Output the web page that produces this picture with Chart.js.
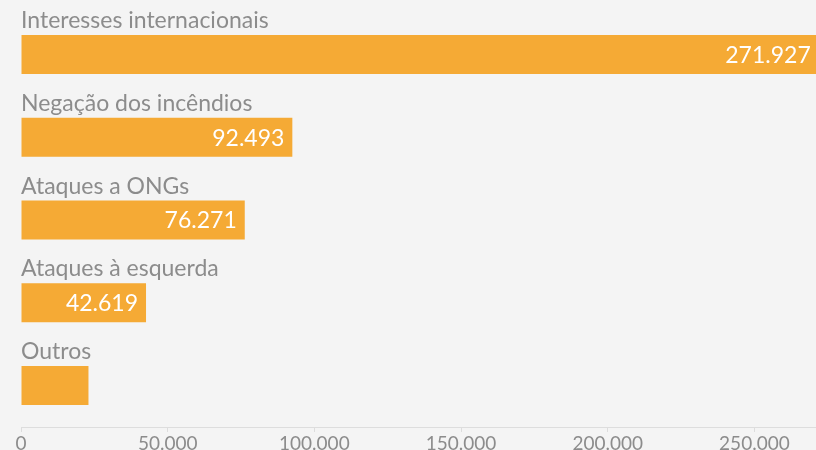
<!DOCTYPE html>
<html lang="pt-BR">
<head>
<meta charset="utf-8">
<title>Temas</title>
<script src="https://cdn.jsdelivr.net/npm/chart.js@4.4.1/dist/chart.umd.min.js"></script>
<style>
  html, body { margin: 0; padding: 0; background: #f4f4f4; }
  #box { width: 816px; height: 450px; position: relative; }
</style>
</head>
<body>
<div id="box"><canvas id="barChart"></canvas></div>
<script>
const temas = ['Interesses internacionais', 'Negação dos incêndios', 'Ataques a ONGs', 'Ataques à esquerda', 'Outros'];
const total = [271927, 92493, 76271, 42619, 23000];
const escala = [0, 50000, 100000, 150000, 200000, 250000];

const laranja = '#f5aa35';
const cinza = '#8c8c8c';
const fonte = 'Lato, "Open Sans", sans-serif';

function milhar(n){
    return String(n).replace(/\B(?=(\d{3})+(?!\d))/g, '.');
}

// nome do tema acima da barra, valor em branco dentro dela
const rotulos = {
    id: 'rotulos',
    afterDatasetsDraw(chart){
        const ctx = chart.ctx;
        const area = chart.chartArea;
        const barras = chart.getDatasetMeta(0).data;
        ctx.save();
        barras.forEach((bar, i) => {
            const topo = bar.y - bar.height / 2;
            ctx.font = '23px ' + fonte;
            ctx.fillStyle = cinza;
            ctx.textAlign = 'left';
            ctx.textBaseline = 'alphabetic';
            ctx.fillText(temas[i], area.left, topo - 7);

            const txt = milhar(total[i]);
            ctx.font = '23px ' + fonte;
            const w = ctx.measureText(txt).width;
            if (bar.x - bar.base > w + 16) {
                ctx.fillStyle = '#ffffff';
                ctx.textAlign = 'right';
                ctx.textBaseline = 'middle';
                ctx.fillText(txt, bar.x - 8, bar.y + 1);
            }
        });
        ctx.restore();
    }
};

function main(){
    const ctx = document.getElementById('barChart').getContext('2d');
    new Chart(ctx, {
        type: 'bar',
        data: {
            labels: temas,
            datasets: [{
                data: total,
                backgroundColor: laranja,
                borderWidth: 0,
                categoryPercentage: 1,
                barPercentage: 0.471
            }]
        },
        options: {
            indexAxis: 'y',
            responsive: true,
            maintainAspectRatio: false,
            animation: false,
            layout: { padding: { left: 21, right: 0, top: 13, bottom: 0 } },
            plugins: {
                legend: { display: false },
                tooltip: { enabled: false }
            },
            scales: {
                y: { display: false },
                x: {
                    min: escala[0],
                    max: 271000,
                    afterFit: s => { s.height = 23; },
                    afterBuildTicks: s => { s.ticks = escala.map(v => ({ value: v })); },
                    ticks: {
                        includeBounds: false,
                        padding: 0,
                        color: cinza,
                        font: { family: fonte, size: 19 },
                        callback: v => milhar(v)
                    },
                    grid: {
                        drawOnChartArea: false,
                        drawTicks: true,
                        tickLength: 5,
                        color: '#dddddd'
                    },
                    border: {
                        display: true,
                        color: '#dddddd',
                        dash: [6, 4]
                    }
                }
            }
        },
        plugins: [rotulos]
    });
}

window.onload = main;
</script>
</body>
</html>
